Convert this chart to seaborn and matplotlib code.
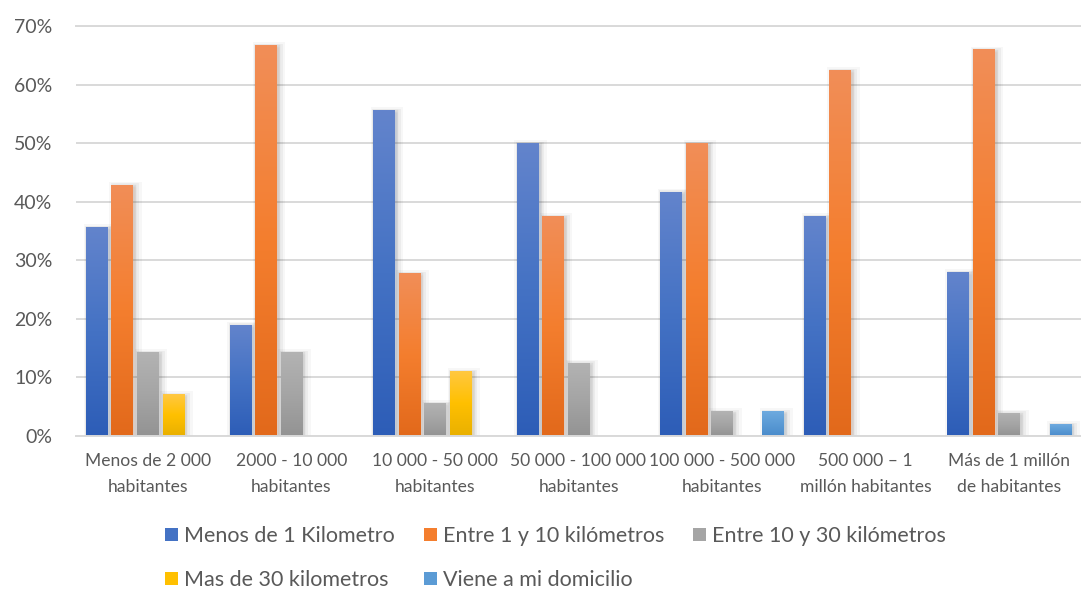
import numpy as np
import pandas as pd
import seaborn as sns
import matplotlib.pyplot as plt
from matplotlib.colors import LinearSegmentedColormap
from matplotlib.patches import Patch
from matplotlib import patheffects as pe

# Population size groups (x axis)
categorias = [
    "Menos de 2 000\nhabitantes",
    "2000 - 10 000\nhabitantes",
    "10 000 - 50 000\nhabitantes",
    "50 000 - 100 000\nhabitantes",
    "100 000 - 500 000\nhabitantes",
    "500 000 – 1\nmillón habitantes",
    "Más de 1 millón\nde habitantes",
]

# Distance groups (hue)
series = [
    "Menos de 1 Kilometro",
    "Entre 1 y 10 kilómetros",
    "Entre 10 y 30 kilómetros",
    "Mas de 30 kilometros",
    "Viene a mi domicilio",
]

# Percentages per population group
menos_1_km = [35.7, 19.0, 55.6, 50.0, 41.7, 37.5, 28.0]
entre_1_y_10_km = [42.9, 66.7, 27.8, 37.5, 50.0, 62.5, 66.0]
entre_10_y_30_km = [14.3, 14.3, 5.6, 12.5, 4.2, 0.0, 4.0]
mas_de_30_km = [7.1, 0.0, 11.1, 0.0, 0.0, 0.0, 0.0]
a_domicilio = [0.0, 0.0, 0.0, 0.0, 4.2, 0.0, 2.0]

y_ticks = [0, 10, 20, 30, 40, 50, 60, 70]

# Gradient stops for each series: (top, middle, bottom)
gradientes = [
    ("#6384CC", "#4472C4", "#2D5DB7"),
    ("#F18E58", "#F47E2E", "#E2691B"),
    ("#B3B3B3", "#A5A5A5", "#939393"),
    ("#FFC843", "#FFC000", "#E9B000"),
    ("#6EAADF", "#5B9BD5", "#4A8BCB"),
]

valores = [menos_1_km, entre_1_y_10_km, entre_10_y_30_km, mas_de_30_km, a_domicilio]
df = pd.DataFrame(
    [
        {"poblacion": c, "distancia": s, "porcentaje": v}
        for s, vals in zip(series, valores)
        for c, v in zip(categorias, vals)
    ]
)

sns.set_theme(style="white")
plt.rcParams["font.family"] = ["Lato", "DejaVu Sans"]

texto = "#595959"
rejilla = "#D9D9D9"

fig = plt.figure(figsize=(10.81, 5.90), dpi=100)
ax = fig.add_axes([76 / 1081, 154 / 590, 1005 / 1081, 410 / 590])

sns.barplot(
    data=df,
    x="poblacion",
    y="porcentaje",
    hue="distancia",
    order=categorias,
    hue_order=series,
    palette=[g[1] for g in gradientes],
    saturation=1,
    width=0.89,
    gap=0.16,
    errorbar=None,
    legend=False,
    ax=ax,
)

# Soft drop shadow around every bar, heavier towards the lower right
sombra = [
    pe.Stroke(offset=(2.0, -1.5), linewidth=8, foreground="black", alpha=0.03),
    pe.Stroke(offset=(1.6, -1.2), linewidth=5, foreground="black", alpha=0.045),
    pe.Stroke(offset=(1.0, -0.8), linewidth=2.5, foreground="black", alpha=0.07),
    pe.Normal(),
]

rampa = np.linspace(0, 1, 256).reshape(-1, 1)
for cont, (arriba, medio, abajo) in zip(ax.containers, gradientes):
    cmap = LinearSegmentedColormap.from_list("grad", [abajo, medio, arriba])
    for barra in cont.patches:
        h = barra.get_height()
        if not np.isfinite(h) or h <= 0:
            barra.set_visible(False)
            continue
        barra.set_linewidth(0)
        barra.set_path_effects(sombra)
        x0 = barra.get_x()
        w = barra.get_width()
        im = ax.imshow(
            rampa,
            cmap=cmap,
            origin="lower",
            extent=[x0, x0 + w, 0, h],
            aspect="auto",
            interpolation="bilinear",
            zorder=barra.get_zorder() + 0.1,
        )
        im.set_clip_path(barra)

ax.set_xlim(-0.5, 6.5)
ax.set_ylim(0, 70)
ax.set_yticks(y_ticks)
ax.set_yticklabels([f"{v}%" for v in y_ticks])
ax.set_xlabel("")
ax.set_ylabel("")

ax.set_axisbelow(True)
ax.yaxis.grid(True, color=rejilla, linewidth=1.4)
ax.xaxis.grid(False)
for lado in ["left", "right"]:
    ax.spines[lado].set_visible(False)
for lado in ["top", "bottom"]:
    ax.spines[lado].set_visible(True)
    ax.spines[lado].set_color(rejilla)
    ax.spines[lado].set_linewidth(1.4)

ax.tick_params(axis="both", length=0, colors=texto)
ax.tick_params(axis="y", labelsize=14, pad=17)
ax.tick_params(axis="x", labelsize=12.6, pad=12)
for t in ax.get_xticklabels():
    t.set_linespacing(1.8)

orden = [0, 3, 1, 4, 2]
manejadores = [Patch(facecolor=gradientes[i][1], edgecolor="none") for i in orden]
fig.legend(
    manejadores,
    [series[i] for i in orden],
    ncol=3,
    loc="upper left",
    bbox_to_anchor=(165 / 1081, 1 - 526 / 590),
    frameon=False,
    fontsize=15.5,
    handlelength=0.6,
    handleheight=0.6,
    handletextpad=0.28,
    columnspacing=1.35,
    labelspacing=1.12,
    borderpad=0,
    borderaxespad=0,
    labelcolor=texto,
)

fig.savefig("out.png", dpi=100)
